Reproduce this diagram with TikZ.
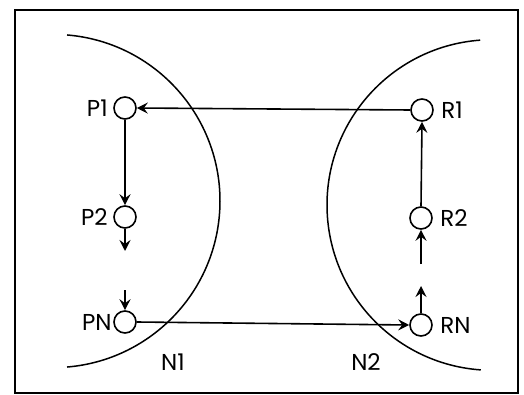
\documentclass[tikz,border=0pt]{standalone}
\usepackage{fontspec}
\setmainfont{Poppins}
\usetikzlibrary{arrows.meta}
\begin{document}
\begin{tikzpicture}[x=1pt,y=-1pt,
  proc/.style={circle,draw,line width=1.6pt,minimum size=22pt,inner sep=0pt},
  lbl/.style={font=\fontsize{23}{23}\selectfont},
  conn/.style={line width=1.6pt,-{Stealth[length=11pt,width=11pt,inset=4pt]}},
  net/.style={line width=1.5pt}]
\useasboundingbox (0,0) rectangle (524,395);
\fill[white] (0,0) rectangle (524,395);
\draw[line width=2pt] (15,10) rectangle (518,393);
% network arcs
\draw[net] (53.4,201) ++(-85.3:166.6) arc[start angle=-85.3,end angle=85.3,radius=166.6];
\draw[net] (492.3,205) ++(-94.2:165.3) arc[start angle=-94.2,end angle=-266,radius=165.3];
% nodes
\node[proc] (P1) at (125,108) {};
\node[proc] (P2) at (125,217) {};
\node[proc] (PN) at (125,322) {};
\node[proc] (R1) at (422,110) {};
\node[proc] (R2) at (421,218) {};
\node[proc] (RN) at (421,325) {};
% labels
\node[lbl,anchor=east] (lP1) at (P1.west) [xshift=-2pt] {P1};
\node[lbl,anchor=east] (lP2) at (P2.west) [xshift=-2pt] {P2};
\node[lbl,anchor=east] (lPN) at (PN.west) [xshift=2pt] {PN};
\node[lbl,anchor=west] (lR1) at (R1.east) [xshift=4pt] {R1};
\node[lbl,anchor=west] (lR2) at (R2.east) [xshift=4pt] {R2};
\node[lbl,anchor=west] (lRN) at (RN.east) [xshift=4pt] {RN};
\node[lbl] (N1) at (173,362) {N1};
\node[lbl] (N2) at (366,362) {N2};
% stub coordinates
\coordinate (P2out) at (125,251);
\coordinate (PNin) at (125,290);
\coordinate (RNout) at (421,286);
\coordinate (R2in) at (421,264);
% connectors
\draw[conn] (R1.west) -- (P1.east);
\draw[conn] (P1.south) -- (P2.north);
\draw[conn] (P2.south) -- (P2out);
\draw[conn] (PNin) -- (PN.north);
\draw[conn] (PN.east) -- (RN.west);
\draw[conn] (RN.north) -- (RNout);
\draw[conn] (R2in) -- (R2.south);
\draw[conn] (R2.north) -- (R1.south);
\end{tikzpicture}
\end{document}
